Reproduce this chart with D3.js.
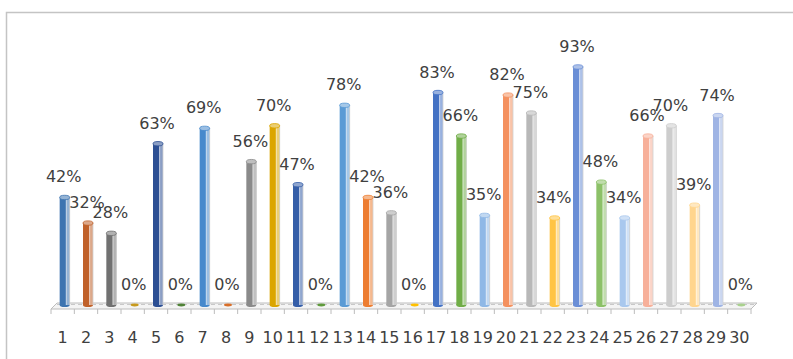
<!DOCTYPE html>
<html>
<head>
<meta charset="utf-8">
<script src="https://cdn.jsdelivr.net/npm/d3@7"></script>
<style>
  html, body { margin: 0; padding: 0; background: #ffffff; }
  svg { display: block; }
  text { font-family: "DejaVu Sans", sans-serif; fill: #404040; }
</style>
</head>
<body>
<svg id="chart" width="793" height="359"></svg>
<script>
// Category labels 1..30
const categories = ["1","2","3","4","5","6","7","8","9","10","11","12","13","14","15",
                    "16","17","18","19","20","21","22","23","24","25","26","27","28","29","30"];
// Share per category (fraction)
const values = [0.42, 0.32, 0.28, 0.00, 0.63, 0.00, 0.69, 0.00, 0.56, 0.70,
                0.47, 0.00, 0.78, 0.42, 0.36, 0.00, 0.83, 0.66, 0.35, 0.82,
                0.75, 0.34, 0.93, 0.48, 0.34, 0.66, 0.70, 0.39, 0.74, 0.00];
// One colour per point
const colors = ["#3d74b0", "#c0612a", "#717171", "#c79a1e", "#2c4f93", "#4f8236",
                "#4789cc", "#d86f2a", "#8a8a8a", "#dba500", "#355ea8", "#5f9a3c",
                "#5b9bd5", "#ed7d31", "#a5a5a5", "#ffc000", "#4472c4", "#70ad47",
                "#8fb8e6", "#f4915f", "#b8b8b8", "#ffc444", "#6a8ed6", "#8cc168",
                "#a9c8ee", "#f7b09a", "#cdcdcd", "#ffd58e", "#9fb4e4", "#a9d18e"];

const svg = d3.select("#chart");

// Outer chart frame (runs off the right and bottom edges)
svg.append("rect")
  .attr("x", 6.5).attr("y", 12.5)
  .attr("width", 820).attr("height", 400)
  .attr("fill", "none").attr("stroke", "#c4c4c4").attr("stroke-width", 1.5);

const x = d3.scaleBand().domain(categories).range([51, 751]).padding(0);
const y = d3.scaleLinear().domain([0, 1]).range([305, 49]);
const depth = 6;      // floor depth offset
const barShift = 2;   // bars sit slightly back on the floor
const bw = 10;        // bar width

// Floor plane
const x0 = x.range()[0], x1 = x.range()[1];
const base = y(0);
svg.append("path")
  .attr("d", `M${x0},${base + 4} L${x1},${base + 4} L${x1 + depth},${base - 2} L${x0 + depth},${base - 2} Z`)
  .attr("fill", "#f4f4f4").attr("stroke", "#bcbcbc").attr("stroke-width", 1);
svg.append("line")
  .attr("x1", x0 + depth).attr("x2", x1 + depth)
  .attr("y1", base - 0.5).attr("y2", base - 0.5)
  .attr("stroke", "#c8c8c8").attr("stroke-dasharray", "4,3");

// Tick marks between categories
const tickPos = categories.map(c => x(c)).concat([x1]);
svg.append("g").selectAll("line").data(tickPos).join("line")
  .attr("x1", d => d).attr("x2", d => d)
  .attr("y1", base + 4).attr("y2", base + 9)
  .attr("stroke", "#bcbcbc").attr("stroke-width", 1);

// Category axis labels
const axis = d3.axisBottom(x).tickSize(0).tickPadding(0);
const gAxis = svg.append("g").attr("transform", `translate(0, ${base + 25})`).call(axis);
gAxis.select(".domain").remove();
gAxis.selectAll("text")
  .attr("dy", 0)
  .attr("y", 12.5)
  .style("font-size", "16px")
  .style("font-family", "DejaVu Sans, sans-serif")
  .attr("fill", "#404040");

const data = categories.map((c, i) => ({ c, v: values[i], col: colors[i] }));
const cx = d => x(d.c) + x.bandwidth() / 2 + barShift;

const bars = svg.append("g").selectAll("g").data(data).join("g");

// Cylinder bodies
bars.filter(d => d.v > 0).each(function(d) {
  const g = d3.select(this);
  const top = y(d.v);
  const left = cx(d) - bw / 2;
  const light = d3.interpolateRgb(d.col, "#ffffff")(0.45);
  // bottom rim
  g.append("ellipse")
    .attr("cx", cx(d)).attr("cy", base).attr("rx", bw / 2).attr("ry", 2)
    .attr("fill", d.col);
  // main body
  g.append("rect")
    .attr("x", left).attr("y", top).attr("width", bw).attr("height", base - top)
    .attr("fill", d.col);
  // lighter right side
  g.append("rect")
    .attr("x", left + bw * 0.66).attr("y", top).attr("width", bw * 0.34).attr("height", base - top)
    .attr("fill", light);
  // thin highlight separating the faces
  g.append("line")
    .attr("x1", left + bw * 0.66).attr("x2", left + bw * 0.66)
    .attr("y1", top).attr("y2", base)
    .attr("stroke", "#ffffff").attr("stroke-opacity", 0.8).attr("stroke-width", 0.8);
  // outline on the right edge
  g.append("line")
    .attr("x1", left + bw).attr("x2", left + bw)
    .attr("y1", top).attr("y2", base)
    .attr("stroke", "#d0d0d0").attr("stroke-width", 0.8);
  // top cap
  g.append("ellipse")
    .attr("cx", cx(d)).attr("cy", top).attr("rx", bw / 2).attr("ry", 2.2)
    .attr("fill", light).attr("stroke", d.col).attr("stroke-width", 0.8);
});

// Flat markers for zero values
bars.filter(d => d.v === 0).append("ellipse")
  .attr("cx", d => cx(d)).attr("cy", base).attr("rx", 4).attr("ry", 1.4)
  .attr("fill", d => d.col);

// Value labels
bars.append("text")
  .attr("x", d => cx(d) - 1)
  .attr("y", d => y(d.v) - 15)
  .attr("text-anchor", "middle")
  .style("font-size", "16px")
  .text(d => Math.round(d.v * 100) + "%");
</script>
</body>
</html>
